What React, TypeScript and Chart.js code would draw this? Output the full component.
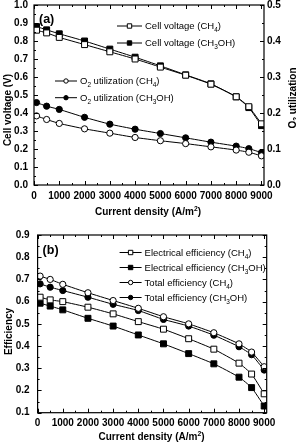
import React, { useEffect, useRef } from 'react';
import { Chart, registerables } from 'chart.js';
Chart.register(...registerables);

// ---------- data ----------
const currentDensity = [100, 500, 1000, 2000, 3000, 4000, 5000, 6000, 7000, 8000, 8500, 9000];

const cellVoltageCH4 = [0.86, 0.845, 0.82, 0.78, 0.74, 0.70, 0.655, 0.61, 0.56, 0.49, 0.435, 0.34];
const cellVoltageCH3OH = [0.88, 0.862, 0.84, 0.80, 0.755, 0.71, 0.662, 0.612, 0.562, 0.49, 0.43, 0.33];
const o2UtilCH4 = [0.192, 0.182, 0.171, 0.156, 0.144, 0.132, 0.123, 0.115, 0.106, 0.097, 0.091, 0.081];
const o2UtilCH3OH = [0.229, 0.219, 0.21, 0.188, 0.169, 0.155, 0.143, 0.131, 0.119, 0.108, 0.101, 0.09];

const elecEffCH4 = [0.62, 0.608, 0.6, 0.575, 0.545, 0.51, 0.476, 0.433, 0.386, 0.323, 0.274, 0.185];
const elecEffCH3OH = [0.593, 0.58, 0.563, 0.525, 0.49, 0.45, 0.41, 0.366, 0.32, 0.26, 0.213, 0.13];
const totEffCH4 = [0.715, 0.7, 0.678, 0.64, 0.605, 0.57, 0.532, 0.5, 0.46, 0.41, 0.373, 0.307];
const totEffCH3OH = [0.68, 0.665, 0.65, 0.62, 0.588, 0.56, 0.52, 0.49, 0.449, 0.397, 0.361, 0.292];

const xTicks = [0, 1000, 2000, 3000, 4000, 5000, 6000, 7000, 8000, 9000];
const voltageTicks = [0, 0.1, 0.2, 0.3, 0.4, 0.5, 0.6, 0.7, 0.8, 0.9, 1.0];
const utilTicks = [0, 0.1, 0.2, 0.3, 0.4, 0.5];
const effTicks = [0.1, 0.2, 0.3, 0.4, 0.5, 0.6, 0.7, 0.8, 0.9];

// ---------- helpers ----------
const FONT = '"Liberation Sans", Arial, Helvetica, sans-serif';
type Seg = [string, number?]; // 0 normal, 1 subscript, 2 superscript

function drawRich(ctx: CanvasRenderingContext2D, segs: Seg[], x: number, y: number, size: number, weight: string, align: 'left' | 'center') {
  const small = size * 0.68;
  let total = 0;
  for (const [t, k] of segs) {
    ctx.font = `${weight} ${k ? small : size}px ${FONT}`;
    total += ctx.measureText(t).width;
  }
  let cx = align === 'center' ? x - total / 2 : x;
  const base = y + size * 0.36;
  ctx.textBaseline = 'alphabetic';
  ctx.textAlign = 'left';
  ctx.fillStyle = '#000';
  for (const [t, k] of segs) {
    ctx.font = `${weight} ${k ? small : size}px ${FONT}`;
    const dy = k === 1 ? size * 0.28 : k === 2 ? -size * 0.42 : 0;
    ctx.fillText(t, cx, base + dy);
    cx += ctx.measureText(t).width;
  }
}

function drawRotated(ctx: CanvasRenderingContext2D, segs: Seg[], x: number, y: number, size: number) {
  ctx.save();
  ctx.translate(x, y);
  ctx.rotate(-Math.PI / 2);
  drawRich(ctx, segs, 0, 0, size, 'bold', 'center');
  ctx.restore();
}

function drawMarker(ctx: CanvasRenderingContext2D, kind: string, filled: boolean, x: number, y: number, r: number) {
  ctx.beginPath();
  if (kind === 'rect') ctx.rect(x - r, y - r, 2 * r, 2 * r);
  else ctx.arc(x, y, r, 0, Math.PI * 2);
  ctx.fillStyle = filled ? '#000' : '#fff';
  ctx.fill();
  ctx.strokeStyle = '#000';
  ctx.lineWidth = 1;
  ctx.stroke();
}

type LegendItem = { kind: string; filled: boolean; segs: Seg[] };

function drawLegend(ctx: CanvasRenderingContext2D, items: LegendItem[], x0: number, y0: number, dy: number, lineLen: number) {
  items.forEach((it, i) => {
    const y = y0 + i * dy;
    ctx.beginPath();
    ctx.moveTo(x0, y);
    ctx.lineTo(x0 + lineLen, y);
    ctx.strokeStyle = '#000';
    ctx.lineWidth = 1;
    ctx.stroke();
    drawMarker(ctx, it.kind, it.filled, x0 + lineLen / 2, y, 2.2);
    drawRich(ctx, it.segs, x0 + lineLen + 3, y, 9.5, 'normal', 'left');
  });
}

type Range = { min: number; max: number; minor: number };

function drawTicks(ctx: CanvasRenderingContext2D, scale: any, r: Range, side: 'bottom' | 'top' | 'left' | 'right', area: any) {
  const n = Math.round((r.max - r.min) / r.minor);
  ctx.strokeStyle = '#000';
  ctx.lineWidth = 1;
  for (let i = 0; i <= n; i++) {
    const v = r.min + i * r.minor;
    const len = i % 2 === 0 ? 4 : 2;
    const p = Math.round(scale.getPixelForValue(v)) + 0.5;
    ctx.beginPath();
    if (side === 'bottom') { ctx.moveTo(p, area.bottom); ctx.lineTo(p, area.bottom - len); }
    if (side === 'top') { ctx.moveTo(p, area.top); ctx.lineTo(p, area.top + len); }
    if (side === 'left') { ctx.moveTo(area.left, p); ctx.lineTo(area.left + len, p); }
    if (side === 'right') { ctx.moveTo(area.right, p); ctx.lineTo(area.right - len, p); }
    ctx.stroke();
  }
}

function drawFrame(ctx: CanvasRenderingContext2D, area: any) {
  ctx.strokeStyle = '#000';
  ctx.lineWidth = 1.2;
  ctx.strokeRect(area.left, area.top, area.right - area.left, area.bottom - area.top);
}

const tickFont = { family: FONT, size: 10, weight: 'bold' as const };

function series(xs: number[], ys: number[]) {
  return xs.map((x, i) => ({ x, y: ys[i] }));
}

function ds(label: string, ys: number[], kind: string, filled: boolean, axis: string) {
  return {
    label,
    data: series(currentDensity, ys),
    yAxisID: axis,
    borderColor: '#000',
    borderWidth: 1,
    backgroundColor: filled ? '#000' : '#fff',
    pointStyle: kind,
    pointRadius: kind === 'rect' ? 4.2 : 3.1,
    pointBorderWidth: 1,
    pointBorderColor: '#000',
    pointBackgroundColor: filled ? '#000' : '#fff',
    tension: 0.15,
    fill: false,
  };
}

function xScale(height: number) {
  return {
    type: 'linear' as const,
    min: 0,
    max: 9100,
    afterBuildTicks: (s: any) => { s.ticks = xTicks.map((v) => ({ value: v })); },
    afterFit: (s: any) => { s.height = height; s.paddingLeft = 0; s.paddingRight = 0; },
    grid: { display: false, drawTicks: false },
    border: { display: false },
    ticks: { font: tickFont, color: '#000', padding: 5, maxRotation: 0, autoSkip: false, callback: (v: any) => String(v) },
  };
}

function yScale(position: 'left' | 'right', min: number, max: number, ticks: number[], width: number, padding: number) {
  return {
    type: 'linear' as const,
    position,
    min,
    max,
    afterBuildTicks: (s: any) => { s.ticks = ticks.map((v) => ({ value: v })); },
    afterFit: (s: any) => { s.width = width; s.paddingTop = 0; s.paddingBottom = 0; },
    grid: { display: false, drawTicks: false },
    border: { display: false },
    ticks: { font: tickFont, color: '#000', padding, autoSkip: false, callback: (v: any) => Number(v).toFixed(1) },
  };
}

// ---------- top chart ----------
const TOP_H = 220;
const BOT_H = 222;

function topConfig(): any {
  const plugin = {
    id: 'decorTop',
    afterDraw(chart: any) {
      const ctx = chart.ctx as CanvasRenderingContext2D;
      const a = chart.chartArea;
      const sx = chart.scales.x, sy = chart.scales.y, sy2 = chart.scales.y2;
      ctx.save();
      drawFrame(ctx, a);
      drawTicks(ctx, sx, { min: 0, max: 9000, minor: 500 }, 'bottom', a);
      drawTicks(ctx, sx, { min: 0, max: 9000, minor: 500 }, 'top', a);
      drawTicks(ctx, sy, { min: 0, max: 1, minor: 0.05 }, 'left', a);
      drawTicks(ctx, sy2, { min: 0, max: 0.5, minor: 0.05 }, 'right', a);
      drawRich(ctx, [['(a)']], a.left + 5, a.top + 13, 12.5, 'bold', 'left');
      drawLegend(ctx, [
        { kind: 'rect', filled: false, segs: [['Cell voltage (CH'], ['4', 1], [')']] },
        { kind: 'rect', filled: true, segs: [['Cell voltage (CH'], ['3', 1], ['OH)']] },
      ], a.left + 83, a.top + 21, 17, 25);
      drawLegend(ctx, [
        { kind: 'circle', filled: false, segs: [['O'], ['2', 1], [' utilization (CH'], ['4', 1], [')']] },
        { kind: 'circle', filled: true, segs: [['O'], ['2', 1], [' utilization (CH'], ['3', 1], ['OH)']] },
      ], a.left + 21, a.top + 76, 16.7, 22);
      drawRotated(ctx, [['Cell voltage (V)']], 7, 110, 10);
      drawRotated(ctx, [['O'], ['2', 1], [' utilization']], 292, 98, 10);
      drawRich(ctx, [['Current density (A/m'], ['2', 2], [')']], 148, 211.5, 10, 'bold', 'center');
      ctx.restore();
    },
  };
  return {
    type: 'line',
    data: {
      datasets: [
        ds('Cell voltage (CH4)', cellVoltageCH4, 'rect', false, 'y'),
        ds('Cell voltage (CH3OH)', cellVoltageCH3OH, 'rect', true, 'y'),
        ds('O2 utilization (CH4)', o2UtilCH4, 'circle', false, 'y2'),
        ds('O2 utilization (CH3OH)', o2UtilCH3OH, 'circle', true, 'y2'),
      ],
    },
    options: {
      responsive: false,
      animation: false,
      layout: { padding: { top: 5, left: 0, right: 0, bottom: 0 }, autoPadding: false },
      plugins: { legend: { display: false }, tooltip: { enabled: false } },
      scales: {
        x: xScale(TOP_H - 185),
        y: yScale('left', 0, 1, voltageTicks, 34, 6),
        y2: yScale('right', 0, 0.5, utilTicks, 32, 3),
      },
    },
    plugins: [plugin],
  };
}

// ---------- bottom chart ----------
function bottomConfig(): any {
  const plugin = {
    id: 'decorBottom',
    afterDraw(chart: any) {
      const ctx = chart.ctx as CanvasRenderingContext2D;
      const a = chart.chartArea;
      const sx = chart.scales.x, sy = chart.scales.y;
      ctx.save();
      drawFrame(ctx, a);
      drawTicks(ctx, sx, { min: 0, max: 9000, minor: 500 }, 'bottom', a);
      drawTicks(ctx, sx, { min: 0, max: 9000, minor: 500 }, 'top', a);
      drawTicks(ctx, sy, { min: 0.1, max: 0.9, minor: 0.05 }, 'left', a);
      drawTicks(ctx, sy, { min: 0.1, max: 0.9, minor: 0.05 }, 'right', a);
      drawRich(ctx, [['(b)']], a.left + 5, a.top + 14, 12.5, 'bold', 'left');
      drawLegend(ctx, [
        { kind: 'rect', filled: false, segs: [['Electrical efficiency (CH'], ['4', 1], [')']] },
        { kind: 'rect', filled: true, segs: [['Electrical efficiency (CH'], ['3', 1], ['OH)']] },
        { kind: 'circle', filled: false, segs: [['Total efficiency (CH'], ['4', 1], [')']] },
        { kind: 'circle', filled: true, segs: [['Total efficiency (CH'], ['3', 1], ['OH)']] },
      ], a.left + 82, a.top + 17.5, 15, 22);
      drawRotated(ctx, [['Efficiency']], 8.3, 111.5, 10);
      drawRich(ctx, [['Current density (A/m'], ['2', 2], [')']], 151.5, 216.5, 10, 'bold', 'center');
      ctx.restore();
    },
  };
  return {
    type: 'line',
    data: {
      datasets: [
        ds('Electrical efficiency (CH4)', elecEffCH4, 'rect', false, 'y'),
        ds('Electrical efficiency (CH3OH)', elecEffCH3OH, 'rect', true, 'y'),
        ds('Total efficiency (CH4)', totEffCH4, 'circle', false, 'y'),
        ds('Total efficiency (CH3OH)', totEffCH3OH, 'circle', true, 'y'),
      ],
    },
    options: {
      responsive: false,
      animation: false,
      layout: { padding: { top: 15, left: 0, right: 29.3, bottom: 0 }, autoPadding: false },
      plugins: { legend: { display: false }, tooltip: { enabled: false } },
      scales: {
        x: xScale(BOT_H - 192.7),
        y: yScale('left', 0.1, 0.9, effTicks, 37.6, 8),
      },
    },
    plugins: [plugin],
  };
}

function ChartCanvas({ make, height }: { make: () => any; height: number }) {
  const ref = useRef<HTMLCanvasElement>(null);
  useEffect(() => {
    const chart = new Chart(ref.current!, make());
    return () => chart.destroy();
  }, [make]);
  return <canvas ref={ref} width={296} height={height} style={{ display: 'block', width: 296, height }} />;
}

export default function App() {
  return (
    <div style={{ position: 'absolute', left: 0, top: 0, width: 296, height: 442, background: '#fff' }}>
      <ChartCanvas make={topConfig} height={TOP_H} />
      <ChartCanvas make={bottomConfig} height={BOT_H} />
    </div>
  );
}
